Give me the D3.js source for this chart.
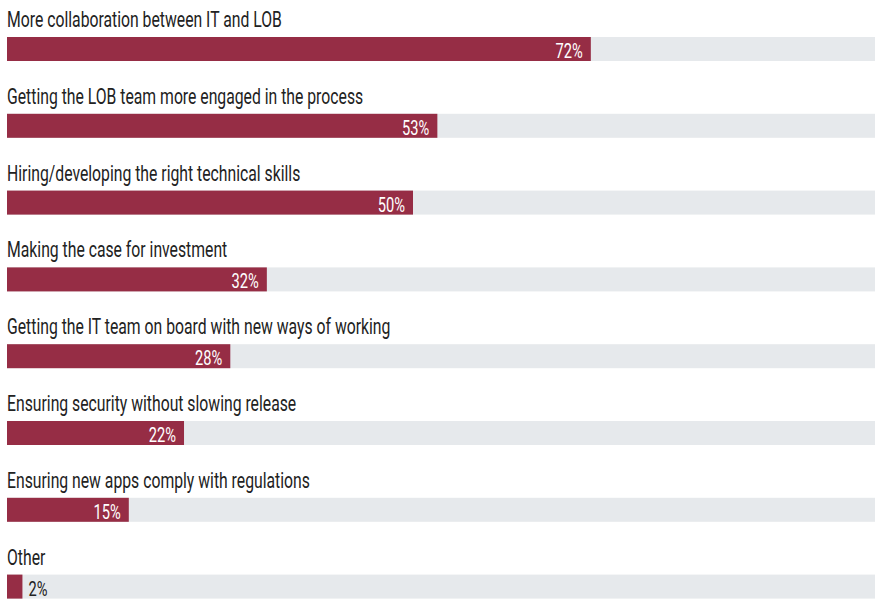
<!DOCTYPE html>
<html>
<head>
<meta charset="utf-8">
<script src="https://cdn.jsdelivr.net/npm/d3@7"></script>
<style>
  body { margin: 0; background: #fff; }
  svg text { font-family: "Roboto", "Liberation Sans", sans-serif; }
  .cat-label { fill: #222; font-size: 22px; }
  .val-label { font-size: 20.5px; }
</style>
</head>
<body>
<svg id="chart" width="875" height="599"></svg>
<script>
// data
let categories = [
    "More collaboration between IT and LOB",
    "Getting the LOB team more engaged in the process",
    "Hiring/developing the right technical skills",
    "Making the case for investment",
    "Getting the IT team on board with new ways of working",
    "Ensuring security without slowing release",
    "Ensuring new apps comply with regulations",
    "Other"
];
let values = [71.9, 53, 50, 32, 27.5, 21.8, 15, 1.9];

let svg = d3.select("#chart");

let margin = {left: 7},
    rowH = 76.8,
    barTop = 37,
    barH = 24;

// 100% maps to ~812px
let x = d3.scaleLinear().domain([0, 100]).range([margin.left, margin.left + 812]);
let y = d3.scaleBand().domain(categories).range([0, rowH * categories.length]).paddingInner(0);
let fmt = (v) => d3.format(".0f")(v) + "%";

let rows = svg.selectAll("g.row")
    .data(categories.map((c, i) => ({cat: c, val: values[i]})))
    .enter().append("g")
    .attr("class", "row")
    .attr("transform", (d) => `translate(0, ${y(d.cat)})`);

// gray track
rows.append("rect")
    .attr("x", margin.left)
    .attr("y", barTop)
    .attr("width", 875 - margin.left)
    .attr("height", barH)
    .attr("fill", "#e6e9ec");

// bar
rows.append("rect")
    .attr("x", margin.left)
    .attr("y", barTop)
    .attr("width", (d) => x(d.val) - x(0))
    .attr("height", barH)
    .attr("fill", "#962d45");

// category label (condensed by horizontal squeeze)
let catText = rows.append("text")
    .attr("class", "cat-label")
    .text((d) => d.cat);

let k = 275 / catText.node().getComputedTextLength();
catText.attr("transform", `translate(${margin.left}, ${barTop - 10}) scale(${k}, 1)`);

// value label: inside if room, else outside
rows.append("text")
    .attr("class", "val-label")
    .each(function(d) {
        let inside = x(d.val) - x(0) > 50;
        let px = inside ? x(d.val) - 8 : x(d.val) + 6;
        d3.select(this)
            .attr("transform", `translate(${px}, ${barTop + 21}) scale(${k}, 1)`)
            .attr("text-anchor", inside ? "end" : "start")
            .attr("fill", inside ? "#fff" : "#222")
            .text(fmt(d.val));
    });
</script>
</body>
</html>
